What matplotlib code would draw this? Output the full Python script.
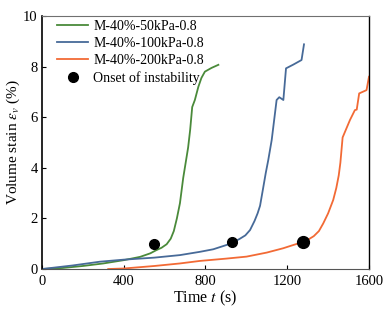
import numpy as np
import matplotlib
matplotlib.use('Agg')
import matplotlib.pyplot as plt

plt.rcParams['font.family'] = ['Liberation Serif', 'DejaVu Serif']
plt.rcParams['mathtext.fontset'] = 'stix'

# data (time in s, volume strain in %)
t_50 = [0, 100, 200, 300, 400, 480, 530, 558, 585, 610, 630, 645, 660, 675, 691, 705,
        715, 725, 735, 748, 765, 780, 797, 830, 863]
ev_50 = [0, 0.04, 0.12, 0.22, 0.35, 0.48, 0.62, 0.74, 0.84, 0.98, 1.2, 1.5, 2.0, 2.6,
         3.6, 4.3, 4.8, 5.5, 6.4, 6.68, 7.2, 7.55, 7.8, 7.95, 8.07]

t_100 = [0, 150, 284, 400, 550, 675, 773, 838, 903, 935, 965, 995, 1018, 1040, 1055,
         1067, 1080, 1095, 1107, 1124, 1148, 1161, 1181, 1194, 1230, 1270, 1282]
ev_100 = [0, 0.14, 0.29, 0.37, 0.45, 0.55, 0.68, 0.78, 0.95, 1.06, 1.18, 1.33, 1.54,
          1.9, 2.2, 2.5, 3.1, 3.8, 4.3, 5.1, 6.68, 6.79, 6.68, 7.93, 8.08, 8.26, 8.88]

t_200 = [324, 400, 550, 675, 773, 900, 1001, 1100, 1180, 1230, 1270, 1300, 1330, 1355,
         1376, 1400, 1425, 1440, 1452, 1460, 1471, 1507, 1531, 1540, 1552, 1588, 1600]
ev_200 = [0, 0.02, 0.12, 0.22, 0.32, 0.41, 0.49, 0.65, 0.82, 0.95, 1.05, 1.15, 1.3, 1.5,
          1.8, 2.2, 2.73, 3.2, 3.7, 4.2, 5.2, 5.89, 6.28, 6.3, 6.94, 7.07, 7.6]

onset_t = [550, 928, 1278]
onset_ev = [1.0, 1.06, 1.06]
onset_size = [7, 7, 8.5]

fig = plt.figure(figsize=(3.91, 3.11), dpi=100)
ax = fig.add_axes([0.1074, 0.135, 0.8363, 0.8136])

ax.plot(t_50, ev_50, color='#4a8a3a', lw=1.3, label='M-40%-50kPa-0.8')
ax.plot(t_100, ev_100, color='#476a98', lw=1.3, label='M-40%-100kPa-0.8')
ax.plot(t_200, ev_200, color='#f26a35', lw=1.3, label='M-40%-200kPa-0.8')
for i in range(len(onset_t)):
    ax.plot(onset_t[i], onset_ev[i], 'o', color='black', ms=onset_size[i], zorder=5,
            label='Onset of instability' if i == 0 else None)

ax.set_xlim(0, 1600)
ax.set_ylim(0, 10)
ax.set_xticks([0, 400, 800, 1200, 1600])
ax.set_yticks([0, 2, 4, 6, 8, 10])
ax.tick_params(direction='in', labelsize=10.5, length=3, width=0.8)
ax.tick_params(axis='x', pad=4)
ax.tick_params(axis='y', pad=3)
ax.set_xlabel('Time $t$ (s)', fontsize=11.5, labelpad=1)
ax.set_ylabel('Volume stain $\\varepsilon_v$ (%)', fontsize=11, labelpad=1)

ax.spines['left'].set_linewidth(1.2)
ax.spines['right'].set_linewidth(1.0)
ax.spines['top'].set_color('#707070')
ax.spines['top'].set_linewidth(0.8)
ax.spines['bottom'].set_color('#555555')

ax.legend(loc='upper left', bbox_to_anchor=(0.03, 1.008), frameon=False, fontsize=10,
          handlelength=2.2, borderaxespad=0.0, labelspacing=0.3, handletextpad=0.4)

fig.savefig('out.png', dpi=100)
